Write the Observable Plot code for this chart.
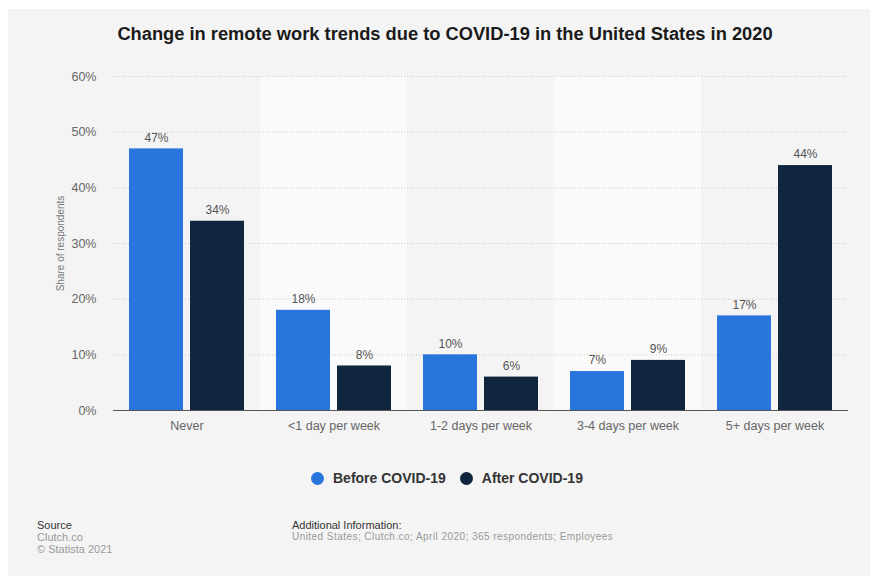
<!DOCTYPE html>
<html>
<head>
<meta charset="utf-8">
<script src="https://cdn.jsdelivr.net/npm/d3@7"></script>
<script src="https://cdn.jsdelivr.net/npm/@observablehq/plot@0.6"></script>
<style>
  html, body { margin: 0; padding: 0; background: #fff; width: 870px; height: 576px; overflow: hidden; font-family: "Liberation Sans", Arial, sans-serif; }
  #bg { position: absolute; left: 8px; top: 9px; right: 0; bottom: 0; background: #f4f4f4; }
  #title { position: absolute; top: 23px; left: 445px; transform: translateX(-50%); white-space: nowrap; font-weight: bold; font-size: 18.3px; color: #1a1a1a; }
  #chart { position: absolute; left: 0; top: 60px; }
  #legend { position: absolute; top: 470px; left: 311px; display: flex; align-items: center; font-weight: bold; font-size: 14px; color: #333; white-space: nowrap; }
  #legend .sw { width: 13px; height: 13px; border-radius: 50%; display: inline-block; margin-right: 9px; }
  #legend .item { display: flex; align-items: center; margin-right: 14px; }
  .foot { position: absolute; font-size: 11px; line-height: 12px; color: #999; }
  .foot .h { color: #333; }
</style>
</head>
<body>
<div id="bg"></div>
<div id="title">Change in remote work trends due to COVID-19 in the United States in 2020</div>
<div id="chart"></div>
<div id="legend"></div>
<div class="foot" style="left:37px; top:519px;"><div class="h">Source</div><div>Clutch.co</div><div>© Statista 2021</div></div>
<div class="foot" style="left:292px; top:519px;"><div class="h">Additional Information:</div><div style="font-size:10px; letter-spacing:0.45px;">United States; Clutch.co; April 2020; 365 respondents; Employees</div></div>
<script>
const categories = ["Never", "<1 day per week", "1-2 days per week", "3-4 days per week", "5+ days per week"];
const series = ["Before COVID-19", "After COVID-19"];
const before = [47, 18, 10, 7, 17];
const after = [34, 8, 6, 9, 44];
const yTicks = [0, 10, 20, 30, 40, 50, 60];
const colors = ["#2876dd", "#10263f"];

const data = [];
categories.forEach((c, i) => {
  data.push({cat: c, series: series[0], value: before[i]});
  data.push({cat: c, series: series[1], value: after[i]});
});
const bands = categories.filter((c, i) => i % 2 === 1).map(c => ({cat: c}));

const plot = Plot.plot({
  width: 870,
  height: 380,
  marginLeft: 112,
  marginRight: 21,
  marginTop: 16,
  marginBottom: 30,
  style: {background: "transparent", fontFamily: "Liberation Sans, Arial, sans-serif"},
  fx: {domain: categories, padding: 0, label: null, axis: null},
  x: {domain: series, paddingInner: 0.113, paddingOuter: 0.25, axis: null},
  y: {domain: [0, 60], ticks: yTicks, label: null},
  color: {domain: series, range: colors},
  marks: [
    Plot.barY(bands, {fx: "cat", y1: 0, y2: 60, fill: "#fafafa"}),
    Plot.gridY(yTicks.filter(t => t > 0), {stroke: "#c8c8c8", strokeOpacity: 1, strokeDasharray: "1,2", strokeWidth: 1}),
    Plot.axisY({ticks: yTicks, tickFormat: d => d + "%", tickSize: 0, tickPadding: 17, fontSize: 12.5, color: "#666", label: "Share of respondents", labelAnchor: "center", labelArrow: "none", labelOffset: 57}),
    Plot.axisFx({anchor: "bottom", tickSize: 0, tickPadding: 11, fontSize: 12.5, color: "#666", label: null}),
    Plot.barY(data, {fx: "cat", x: "series", y: "value", fill: "series"}),
    Plot.ruleY([0], {stroke: "#555", strokeWidth: 1}),
    Plot.text(data, {fx: "cat", x: "series", y: "value", text: d => d.value + "%", dy: -11, fontSize: 12, fill: "#555"})
  ]
});
document.getElementById("chart").appendChild(plot);
plot.querySelectorAll("[aria-label='y-axis label'] text").forEach(t => { t.setAttribute("font-size", "10"); t.setAttribute("fill", "#777"); });

const legend = document.getElementById("legend");
series.forEach((s, i) => {
  const it = document.createElement("div");
  it.className = "item";
  it.innerHTML = `<span class="sw" style="background:${colors[i]}"></span><span>${s}</span>`;
  legend.appendChild(it);
});
</script>
</body>
</html>
